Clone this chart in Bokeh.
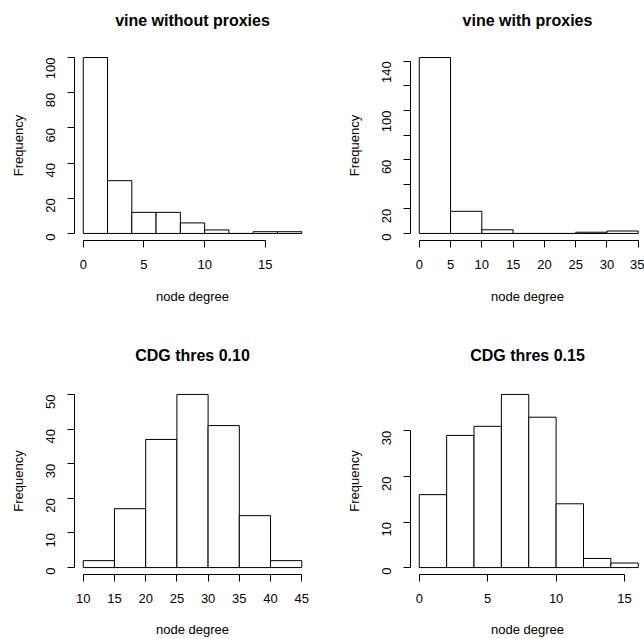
from bokeh.plotting import figure
from bokeh.layouts import column, row
from bokeh.models import FixedTicker, Range1d, LinearAxis
from bokeh.embed import file_html
from bokeh.resources import INLINE
import math

# ---- data ----
titles = ["vine without proxies", "vine with proxies", "CDG thres 0.10", "CDG thres 0.15"]
x_label = "node degree"
y_label = "Frequency"

breaks_vine = [0, 2, 4, 6, 8, 10, 12, 14, 16, 18]
counts_vine = [100, 30, 12, 12, 6, 2, 0, 1, 1]
xticks_vine = [0, 5, 10, 15]
yticks_vine = [0, 20, 40, 60, 80, 100]

breaks_proxy = [0, 5, 10, 15, 20, 25, 30, 35]
counts_proxy = [143, 18, 3, 0, 0, 1, 2]
xticks_proxy = [0, 5, 10, 15, 20, 25, 30, 35]
yticks_proxy = [0, 20, 40, 60, 80, 100, 120, 140]
yticks_proxy_unlabelled = [40, 80, 120]

breaks_cdg10 = [10, 15, 20, 25, 30, 35, 40, 45]
counts_cdg10 = [2, 17, 37, 50, 41, 15, 2]
xticks_cdg10 = [10, 15, 20, 25, 30, 35, 40, 45]
yticks_cdg10 = [0, 10, 20, 30, 40, 50]

breaks_cdg15 = [0, 2, 4, 6, 8, 10, 12, 14, 16]
counts_cdg15 = [16, 29, 31, 38, 33, 14, 2, 1]
xticks_cdg15 = [0, 5, 10, 15]
yticks_cdg15 = [0, 10, 20, 30]

FONT = "Liberation Sans"


def make_panel(title, breaks, counts, xticks, yticks, hidden, width, height,
               b_left, b_right, b_top, b_bottom, title_standoff=22, xlab_standoff=17):
    frame_w = width - b_left - b_right
    lo, hi = breaks[0], breaks[-1]
    span = hi - lo
    x0 = lo - 0.04 * span
    x1 = hi + 0.04 * span
    if b_right == 0:
        # frame reaches the page edge: keep R's scale, let the range end at the edge
        full_w = 236.5
        x1 = x0 + (x1 - x0) * frame_w / full_w
    ymax = max(counts)
    y0, y1 = -0.04 * ymax, 1.04 * ymax

    p = figure(width=width, height=height, output_backend="svg", toolbar_location=None,
               x_range=Range1d(x0, x1), y_range=Range1d(y0, y1),
               min_border_left=b_left, min_border_right=b_right,
               min_border_top=b_top, min_border_bottom=b_bottom)
    p.quad(left=breaks[:-1], right=breaks[1:], top=counts, bottom=0,
           fill_color="white", line_color="black", line_width=1)

    p.outline_line_color = None
    p.grid.visible = False
    p.background_fill_color = "white"
    p.border_fill_color = "white"

    xax = p.below[0]
    yax = p.left[0]
    for ax in (xax, yax):
        ax.axis_line_color = "black"
        ax.axis_line_width = 1
        ax.major_tick_line_color = "black"
        ax.major_tick_in = 0
        ax.major_tick_out = 7
        ax.minor_tick_line_color = None
        ax.major_label_text_font = FONT
        ax.major_label_text_font_size = "13px"
        ax.major_label_text_color = "black"
        ax.axis_label_text_font = FONT
        ax.axis_label_text_font_size = "13px"
        ax.axis_label_text_font_style = "normal"
        ax.axis_label_text_color = "black"

    xax.ticker = FixedTicker(ticks=xticks)
    xax.bounds = (xticks[0], xticks[-1])
    xax.axis_label = x_label
    xax.major_label_standoff = 12
    xax.axis_label_standoff = xlab_standoff

    yax.ticker = FixedTicker(ticks=yticks)
    yax.bounds = (yticks[0], yticks[-1])
    yax.axis_label = y_label
    yax.major_label_orientation = math.pi / 2
    yax.major_label_standoff = 17
    yax.axis_label_standoff = 13
    if hidden:
        yax.major_label_overrides = {t: "" for t in hidden}

    # main title, drawn as the label of an empty axis above the frame
    tax = LinearAxis(ticker=FixedTicker(ticks=[]), axis_label=title)
    tax.axis_line_color = None
    tax.major_tick_line_color = None
    tax.minor_tick_line_color = None
    tax.major_tick_out = 0
    tax.major_tick_in = 0
    tax.major_label_standoff = 0
    tax.axis_label_standoff = title_standoff
    tax.axis_label_text_font = FONT
    tax.axis_label_text_font_size = "16px"
    tax.axis_label_text_font_style = "bold"
    tax.axis_label_text_color = "black"
    p.add_layout(tax, "above")
    return p


p1 = make_panel(titles[0], breaks_vine, counts_vine, xticks_vine, yticks_vine, None,
                328, 318, 74, 18, 50, 78)
p2 = make_panel(titles[1], breaks_proxy, counts_proxy, xticks_proxy, yticks_proxy,
                yticks_proxy_unlabelled, 316, 318, 82, 0, 50, 78)
p3 = make_panel(titles[2], breaks_cdg10, counts_cdg10, xticks_cdg10, yticks_cdg10, None,
                328, 321, 74, 18, 69, 63, title_standoff=24, xlab_standoff=16)
p4 = make_panel(titles[3], breaks_cdg15, counts_cdg15, xticks_cdg15, yticks_cdg15, None,
                316, 321, 82, 0, 69, 63, title_standoff=24, xlab_standoff=16)

layout = column(row(p1, p2), row(p3, p4))
open("out.html", "w").write(file_html(layout, INLINE))
